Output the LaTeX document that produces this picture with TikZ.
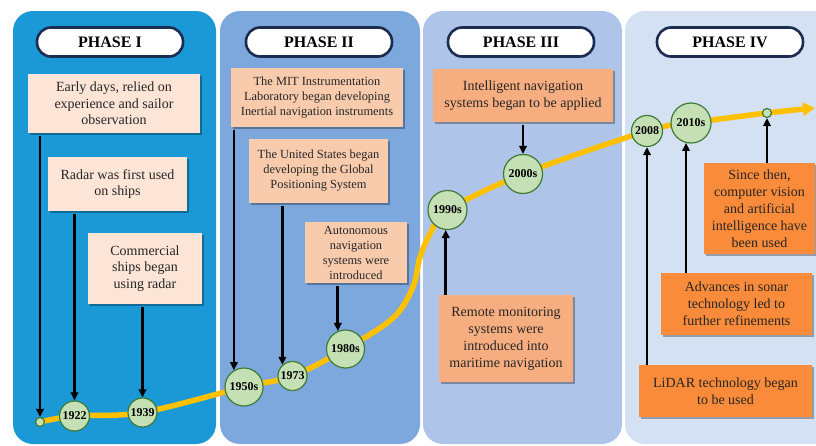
\documentclass[tikz,border=0pt]{standalone}
\usepackage{fontspec}
\setmainfont{Liberation Serif}
\usetikzlibrary{shadows,arrows.meta}
\definecolor{pone}{HTML}{1B99D7}
\definecolor{ptwo}{HTML}{7DA8DE}
\definecolor{pthree}{HTML}{AEC5E9}
\definecolor{pfour}{HTML}{D3E1F3}
\definecolor{navy}{HTML}{1C2B50}
\definecolor{boxA}{HTML}{FCE4D6}
\definecolor{boxB}{HTML}{F8CBAD}
\definecolor{boxC}{HTML}{F6AE80}
\definecolor{boxD}{HTML}{F98B3A}
\definecolor{ygreen}{HTML}{C5E0B4}
\definecolor{gborder}{HTML}{3F7A35}
\definecolor{gold}{HTML}{FFC000}
\definecolor{textc}{HTML}{262626}
\begin{document}
\begin{tikzpicture}[x=1pt,y=-1pt,
  panel/.style={rounded corners=20pt},
  hdr/.style={draw=navy, line width=2.6pt, fill=white, rounded corners=14pt, minimum width=146pt, minimum height=29pt, inner sep=0pt, font=\bfseries\fontsize{16}{18}\selectfont, text=black},
  ev/.style={inner sep=0pt, align=center, text=textc, drop shadow={shadow xshift=1.5pt, shadow yshift=-1.5pt, opacity=0.3, fill=black}},
  evA/.style={ev, fill=boxA, font=\fontsize{14}{16.5}\selectfont},
  evB/.style={ev, fill=boxB, font=\fontsize{12.4}{15}\selectfont},
  evC/.style={ev, fill=boxC, font=\fontsize{14}{17}\selectfont},
  evD/.style={ev, fill=boxD, font=\fontsize{14}{17}\selectfont},
  yr/.style={circle, fill=ygreen, draw=gborder, line width=1.2pt, inner sep=0pt, text=black, font=\bfseries\fontsize{12}{14}\selectfont},
  dotn/.style={circle, fill=ygreen, draw=gborder, line width=1.2pt, inner sep=0pt, minimum size=9pt},
  arr/.style={line width=2.8pt, -{Triangle[length=8pt,width=7.5pt]}},
  trend/.style={line width=5.5pt, draw=gold, -{Triangle[length=12pt,width=13pt]}}
]
\useasboundingbox (0,0) rectangle (816,445);
\fill[white] (0,0) rectangle (816,445);
\clip (0,0) rectangle (816,445);
% panels
\fill[pone, panel] (13,11) rectangle (216,444);
\fill[ptwo, panel] (220,11) rectangle (420,444);
\fill[pthree, panel] (423,11) rectangle (622,444);
\fill[pfour, panel] (625,11) rectangle (860,444);
% headers
\node[hdr] (h1) at (110,42) {PHASE I};
\node[hdr] (h2) at (319,42) {PHASE II};
\node[hdr] (h3) at (521,42) {PHASE III};
\node[hdr] (h4) at (730,42) {PHASE IV};
% trend curve
\draw[trend] plot[smooth, tension=0.55] coordinates {(40,422) (74.5,416) (142.5,412.5) (244,387) (292.5,376) (345.5,349) (393,318) (413,287) (420,257) (432,230) (447.5,210) (523,174) (647,131) (691,123) (767,113) (815,108)};
% year circles
\node[dotn] (s0) at (40,422) {};
\node[yr, minimum size=30pt] (c22) at (74.5,416) {1922};
\node[yr, minimum size=29pt] (c39) at (142.5,412.5) {1939};
\node[yr, minimum size=38pt] (c50) at (244,387) {1950s};
\node[yr, minimum size=29pt] (c73) at (292.5,376) {1973};
\node[yr, minimum size=38pt] (c80) at (345.5,349) {1980s};
\node[yr, minimum size=39pt] (c90) at (447.5,210) {1990s};
\node[yr, minimum size=39pt] (c00) at (523,174) {2000s};
\node[yr, minimum size=31pt] (c08) at (647,131) {2008};
\node[yr, minimum size=40pt] (c10) at (691,123) {2010s};
\node[dotn] (s1) at (767,113) {};
% event boxes
\node[evA, minimum width=172pt, minimum height=59pt] (b1) at (114,103.5) {Early days, relied on\\experience and sailor\\observation};
\node[evA, minimum width=139pt, minimum height=54pt] (b2) at (117.5,184) {Radar was first used\\on ships};
\node[evA, minimum width=114pt, minimum height=71pt] (b3) at (145,268.5) {Commercial\\ships began\\using radar};
\node[evB, minimum width=172pt, minimum height=59pt] (b4) at (317,97.5) {The MIT Instrumentation\\Laboratory began developing\\Inertial navigation instruments};
\node[evB, minimum width=139pt, minimum height=64pt] (b5) at (318.5,171) {The United States began\\developing the Global\\Positioning System};
\node[evB, minimum width=102pt, minimum height=61pt] (b6) at (356,252.5) {Autonomous\\navigation\\systems were\\introduced};
\node[evC, minimum width=180pt, minimum height=53pt] (b7) at (523,95.5) {Intelligent navigation\\systems began to be applied};
\node[evC, minimum width=134pt, minimum height=87pt] (b8) at (506,338.5) {Remote monitoring\\systems were\\introduced into\\maritime navigation};
\node[evD, minimum width=111pt, minimum height=91pt] (b9) at (759.5,208.5) {Since then,\\computer vision\\and artificial\\intelligence have\\been used};
\node[evD, minimum width=151pt, minimum height=62pt] (b10) at (736.5,304) {Advances in sonar\\technology led to\\further refinements};
\node[evD, minimum width=173pt, minimum height=52pt] (b11) at (725.5,391) {LiDAR technology began\\to be used};
% arrows
\draw[arr] ([yshift=-3pt]s0 |- b1.south) -- (s0.north);
\draw[arr] ([yshift=-3pt]c22 |- b2.south) -- (c22.north);
\draw[arr] ([yshift=-3pt]c39 |- b3.south) -- (c39.north);
\draw[arr] ([yshift=-3pt]c50.121 |- b4.south) -- (c50.121);
\draw[arr] ([yshift=-3pt]c73.132 |- b5.south) -- (c73.132);
\draw[arr] ([yshift=-3pt]c80.113 |- b6.south) -- (c80.113);
\draw[arr] ([yshift=-3pt]c00 |- b7.south) -- (c00.north);
\draw[arr] (c90.265 |- b8.north) -- (c90.265);
\draw[arr] (c08 |- b11.north) -- (c08.south);
\draw[arr] (c10.256 |- b10.north) -- (c10.256);
\draw[arr] (s1 |- b9.north) -- (s1.south);
\end{tikzpicture}
\end{document}
